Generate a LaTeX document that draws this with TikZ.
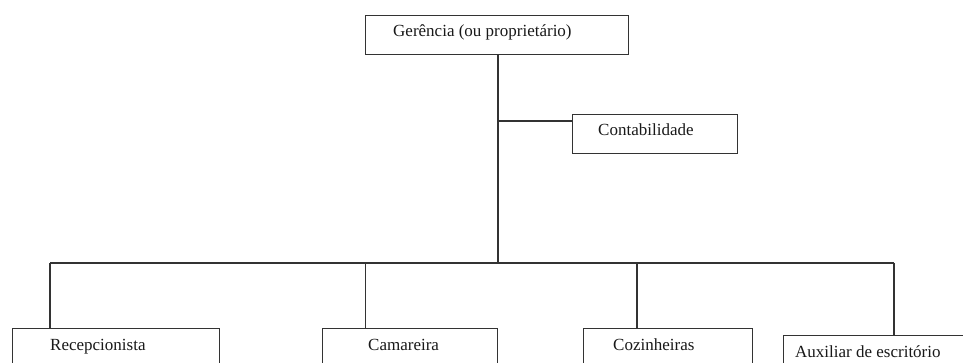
\documentclass[tikz,border=0pt]{standalone}
\usepackage{fontspec}
\setmainfont{Liberation Serif}
\begin{document}
\begin{tikzpicture}[x=1pt,y=-1pt,
  orgbox/.style={draw=black!80, line width=1.2pt, fill=white, rectangle, inner sep=0pt, anchor=north west},
  lbl/.style={anchor=base west, inner sep=0pt, font=\fontsize{17pt}{19pt}\selectfont, text=black!90},
  conn/.style={draw=black!80, line width=1.2pt}]
\useasboundingbox (0,0) rectangle (963,363);
\clip (0,0) rectangle (963,363);
\coordinate (bus) at (498,263);
\coordinate (busL) at (50,263);
\coordinate (busR) at (894,263);
\coordinate (tap) at (498,121);
% boxes
\node[orgbox, minimum width=263pt, minimum height=39pt] (ger) at (365,15) {};
\node[orgbox, minimum width=165pt, minimum height=39pt] (cont) at (572,114) {};
\node[orgbox, minimum width=207pt, minimum height=60pt] (rec) at (12,328) {};
\node[orgbox, minimum width=175pt, minimum height=60pt] (cam) at (322,328) {};
\node[orgbox, minimum width=169pt, minimum height=60pt] (coz) at (583,328) {};
\node[orgbox, minimum width=200pt, minimum height=60pt] (aux) at (783,335) {};
% labels
\node[lbl] (tger) at (393,37) {Gerência (ou proprietário)};
\node[lbl] (tcont) at (598,136) {Contabilidade};
\node[lbl] (trec) at (50,350) {Recepcionista};
\node[lbl] (tcam) at (368,350) {Camareira};
\node[lbl] (tcoz) at (613,350) {Cozinheiras};
\node[lbl] (taux) at (795,357) {Auxiliar de escritório};
% connectors
\draw[conn] (ger.south -| bus) -- (bus);
\draw[conn] (tap) -- (tap -| cont.west);
\draw[conn] (busL) -- (busR);
\draw[conn] (busL) -- (busL |- rec.north);
\draw[conn] (365.7,263) -- (365.7,328);
\draw[conn] (637,263) -- (637,328);
\draw[conn] (busR) -- (busR |- aux.north);
\end{tikzpicture}
\end{document}
